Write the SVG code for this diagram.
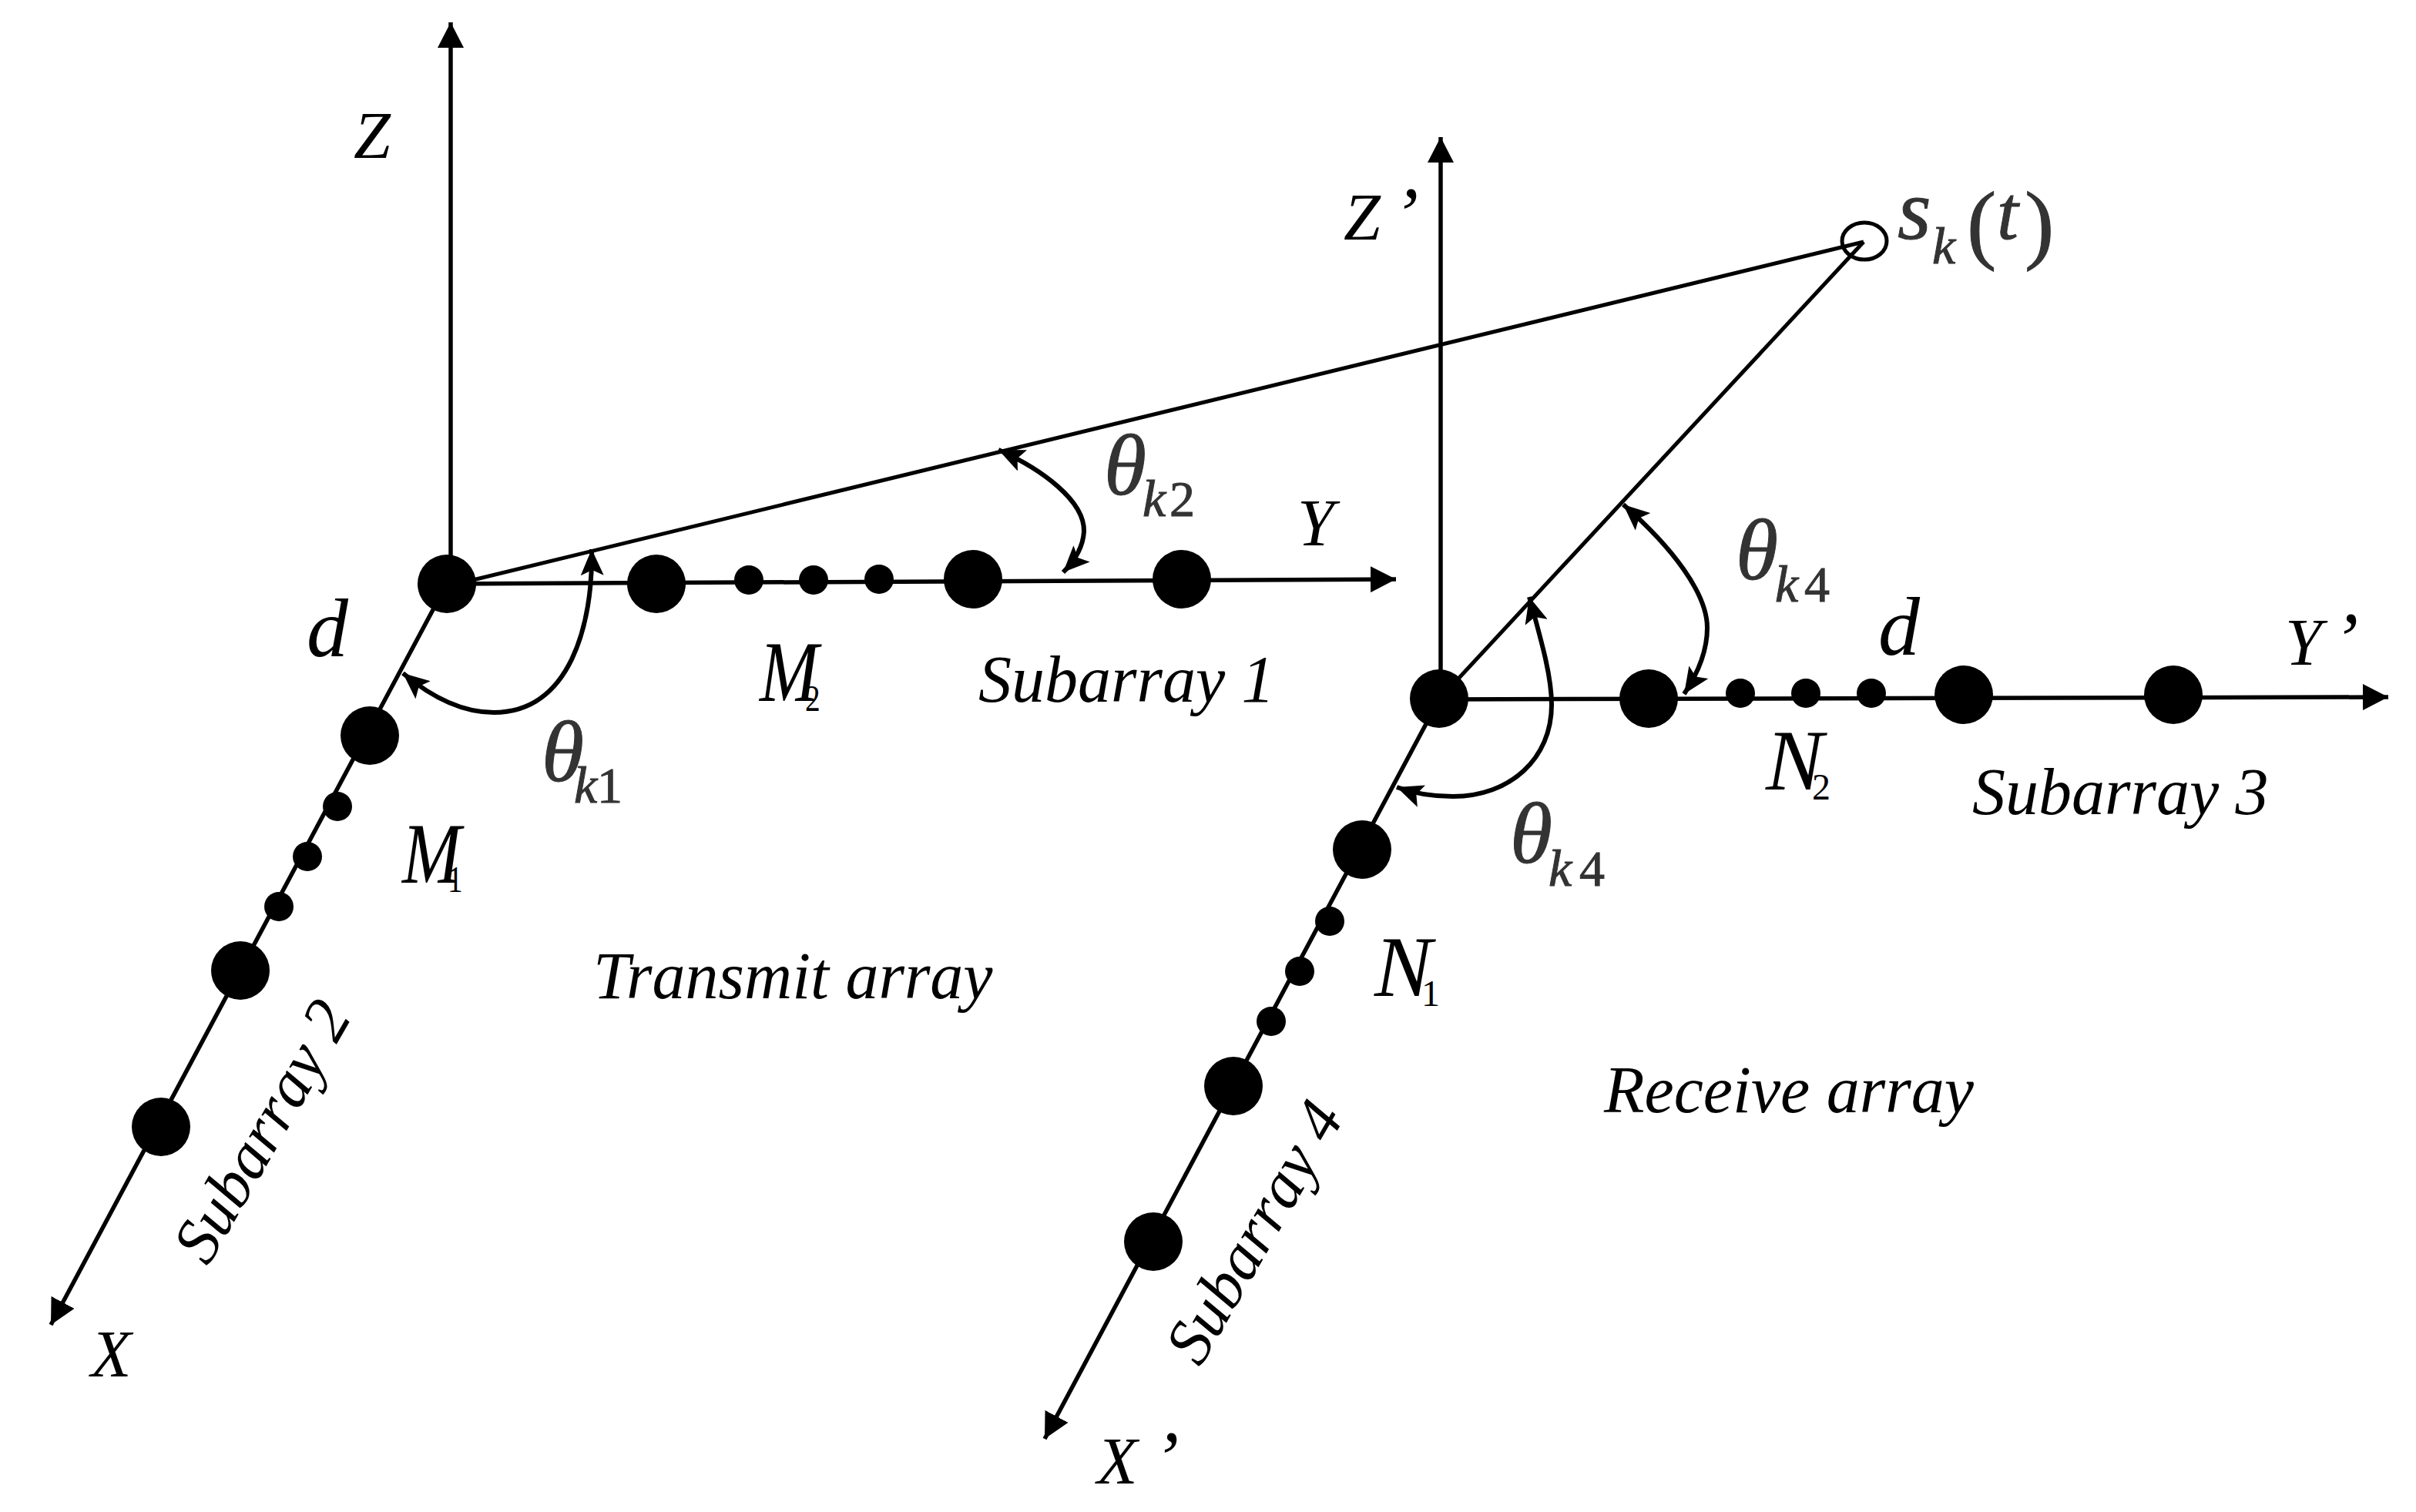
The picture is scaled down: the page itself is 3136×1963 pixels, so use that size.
<svg xmlns="http://www.w3.org/2000/svg" width="3136" height="1963" viewBox="0 0 3136 1963">
<style>
.l{stroke:#000;stroke-width:5;fill:none}
.a{stroke:#000;stroke-width:5.5;fill:none;marker-end:url(#h)}
.b{stroke:#000;stroke-width:6;fill:none;marker-start:url(#h2);marker-end:url(#h2)}
circle{fill:#000}
text{font-family:"Liberation Serif",serif;font-style:italic;fill:#000;font-size:86px}
.d{font-size:108px}
.m{font-size:112px}
.ms{font-size:48px;font-style:normal}
.g{font-size:112px;fill:#333;stroke:#333;stroke-width:1}
.gs{font-size:68px}
.gn{font-size:66px;font-style:normal}
.p{font-size:115px;font-style:normal}
.q{font-size:100px}
</style>
<defs>
<marker id="h" markerUnits="userSpaceOnUse" markerWidth="34" markerHeight="34" refX="33" refY="17" orient="auto"><path d="M0 0L33 17L0 34z" fill="#000"/></marker>
<marker id="h2" markerUnits="userSpaceOnUse" markerWidth="36" markerHeight="30" refX="34" refY="15" orient="auto-start-reverse"><path d="M0 0L34 15L0 30L7 15z" fill="#000"/></marker>
</defs>
<rect width="3136" height="1963" fill="#fff"/>
<g id="connectors">
<path class="a" d="M585 750V29"/>
<path class="a" d="M580 758L1812 752"/>
<path class="a" d="M580 758L66 1720"/>
<path class="a" d="M1870 905V178"/>
<path class="a" d="M1868 908L3100 905"/>
<path class="a" d="M1868 908L1356 1868"/>
<ellipse cx="2420" cy="313" rx="29" ry="24" fill="#fff" stroke="#000" stroke-width="5"/>
<path class="l" d="M585 760L2419 314"/>
<path class="l" d="M1868 908L2419 314"/>
<path class="b" d="M768 713C770 810 740 925 641 925C600 925 560 905 523 874"/>
<path class="b" d="M1296 584C1352 609 1408 650 1407 690C1406 708 1398 725 1380 743"/>
<path class="b" d="M1985 775C2003 840 2014 880 2014 915C2014 985 1960 1034 1886 1034C1860 1034 1835 1030 1813 1022"/>
<path class="b" d="M2107 655C2170 710 2216 770 2216 815C2216 850 2200 880 2186 901"/>
</g>
<g id="nodes-transmit">
<circle cx="580" cy="758" r="38"/><circle cx="852" cy="758" r="38"/><circle cx="972" cy="753" r="19"/><circle cx="1056" cy="753" r="19"/><circle cx="1141" cy="752" r="19"/><circle cx="1263" cy="752" r="38"/><circle cx="1534" cy="752" r="38"/>
<circle cx="480" cy="955" r="38"/><circle cx="438" cy="1047" r="19"/><circle cx="399" cy="1112" r="19"/><circle cx="362" cy="1177" r="19"/><circle cx="312" cy="1260" r="38"/><circle cx="209" cy="1463" r="38"/>
</g>
<g id="nodes-receive">
<circle cx="1868" cy="907" r="38"/><circle cx="2140" cy="907" r="38"/><circle cx="2259" cy="900" r="19"/><circle cx="2344" cy="900" r="19"/><circle cx="2429" cy="900" r="19"/><circle cx="2549" cy="902" r="38"/><circle cx="2821" cy="902" r="38"/>
<circle cx="1768" cy="1103" r="38"/><circle cx="1726" cy="1196" r="19"/><circle cx="1687" cy="1261" r="19"/><circle cx="1650" cy="1326" r="19"/><circle cx="1601" cy="1410" r="38"/><circle cx="1497" cy="1612" r="38"/>
</g>
<g id="labels">
<text x="459" y="205">Z</text>
<text x="118" y="1787">X</text>
<text x="1684" y="708">Y</text>
<text x="398" y="852" class="d">d</text>
<text transform="translate(986 910) scale(.82 1)" class="m">M<tspan class="ms" x="72" y="13">2</tspan></text>
<text transform="translate(522 1146) scale(.82 1)" class="m">M<tspan class="ms" x="72" y="12">1</tspan></text>
<text x="1270" y="911">Subarray 1</text>
<text x="770" y="1296">Transmit array</text>
<text transform="translate(270 1645) rotate(-60)" style="font-size:84px">Subarray 2</text>
<text x="703" y="1014" class="g">θ<tspan class="gs" x="745" y="1042">k</tspan><tspan class="gn" x="775" y="1042">1</tspan></text>
<text x="1433" y="642" class="g">θ<tspan class="gs" x="1483" y="670">k</tspan><tspan class="gn" x="1518" y="670">2</tspan></text>
<text x="2253" y="752" class="g">θ<tspan class="gs" x="2304" y="781">k</tspan><tspan class="gn" x="2342" y="781">4</tspan></text>
<text x="1960" y="1120" class="g">θ<tspan class="gs" x="2010" y="1150">k</tspan><tspan class="gn" x="2050" y="1150">4</tspan></text>
<text x="1744" y="311">Z<tspan class="q" x="1808">’</tspan></text>
<text x="1424" y="1926">X<tspan class="q" x="1497">’</tspan></text>
<text x="2966" y="863">Y<tspan class="q" x="3028">’</tspan></text>
<text x="2438" y="850" class="d">d</text>
<text x="2292" y="1025" class="m">N<tspan class="ms" x="2352" y="1038">2</tspan></text>
<text x="1784" y="1293" class="m">N<tspan class="ms" x="1845" y="1306">1</tspan></text>
<text x="2560" y="1057">Subarray 3</text>
<text x="2082" y="1444">Receive array</text>
<text transform="translate(1558 1776) rotate(-60)" style="font-size:84px">Subarray 4</text>
<text x="2463" y="310" class="g">s<tspan class="gs" x="2508" y="342">k</tspan><tspan class="p" x="2553" y="328">(</tspan><tspan x="2592" y="310" style="font-size:100px">t</tspan><tspan class="p" x="2628" y="328">)</tspan></text>
</g>
</svg>
